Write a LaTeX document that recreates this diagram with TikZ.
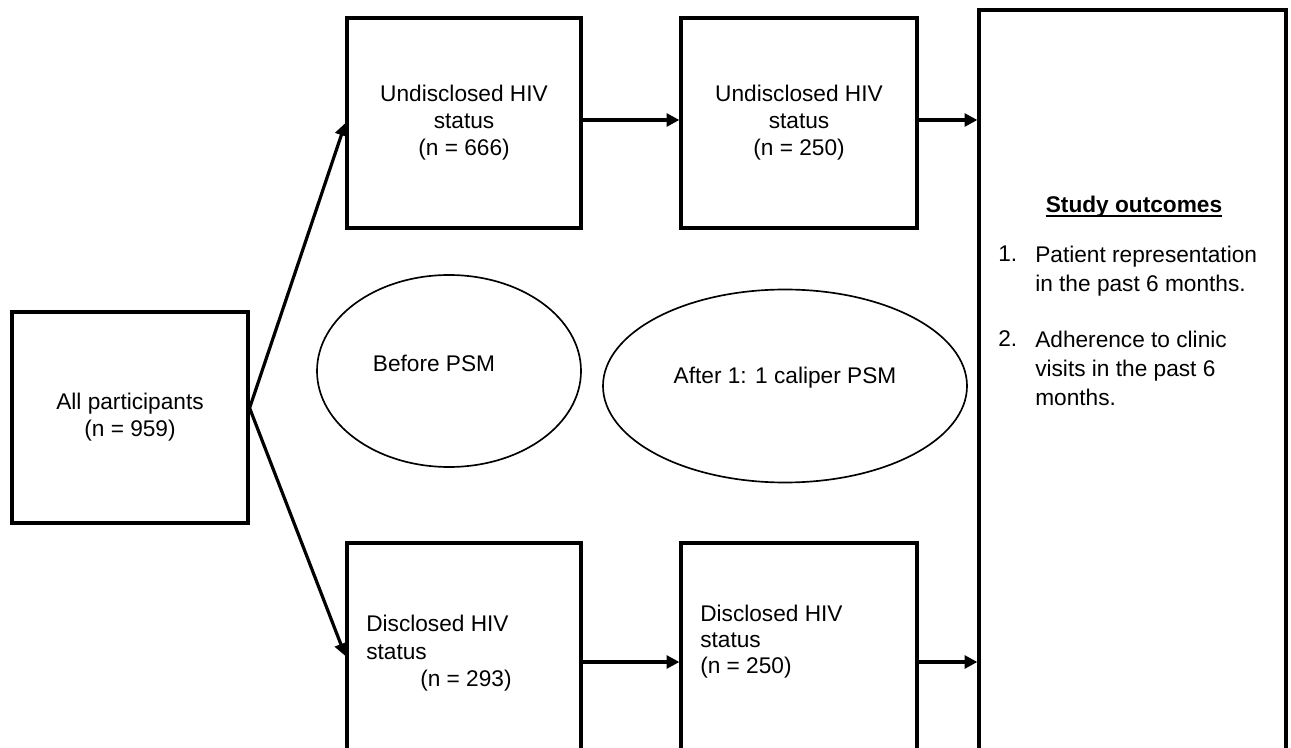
\documentclass[tikz,border=0pt]{standalone}
\usepackage{fontspec}
\setmainfont{Liberation Sans}
\usetikzlibrary{arrows.meta,shapes.geometric}
\begin{document}
\begin{tikzpicture}[x=0.75pt,y=-0.75pt,
  box/.style={draw, line width=2.4pt, rectangle, inner sep=0pt, align=center,
    font=\fontsize{17pt}{20.25pt}\selectfont},
  oval/.style={draw, line width=1.25pt, ellipse, inner sep=0pt},
  txt/.style={inner sep=0pt, font=\fontsize{17pt}{20.25pt}\selectfont},
  rtxt/.style={inner sep=0pt, align=left, font=\fontsize{17pt}{21.75pt}\selectfont},
  arr/.style={line width=2.4pt, -{Triangle[length=9.5pt,width=9.5pt]}}]
\useasboundingbox (0,0) rectangle (1291,748);
\clip (0,0) rectangle (1291,748);

% boxes
\node[box, minimum width=177pt, minimum height=158.25pt] (A) at (130,417.5)
  {All participants\\(n = 959)};
\node[box, minimum width=175.5pt, minimum height=157.5pt] (U1) at (464,123)
  {Undisclosed HIV\\status\\(n = 666)};
\node[box, minimum width=177pt, minimum height=157.5pt] (U2) at (799,123)
  {Undisclosed HIV\\status\\(n = 250)};
\node[box, minimum width=175.5pt, minimum height=178.5pt] (D1) at (464,662) {};
\node[box, minimum width=177pt, minimum height=178.5pt] (D2) at (799,662) {};
\node[box, minimum width=230.25pt, minimum height=585pt] (R) at (1132.5,400) {};

% texts of the lower boxes
\node[rtxt, anchor=north west, font=\fontsize{17pt}{20.5pt}\selectfont] (D1t) at (366,615)
  {Disclosed HIV\\status\\\hspace*{40.5pt}(n = 293)};
\node[rtxt, anchor=north west, font=\fontsize{17pt}{19.5pt}\selectfont] (D2t) at (700,605)
  {Disclosed HIV\\status\\(n = 250)};

% ellipses
\node[oval, minimum width=198pt, minimum height=144pt] (E1) at (449,371) {};
\node[txt] (E1t) at (434,363) {Before PSM};
\node[oval, minimum width=273pt, minimum height=144.75pt] (E2) at (785,386) {};
\node[txt] (E2t) at (785,378) {After 1: 1 caliper PSM};

% study outcomes
\node[txt, anchor=base, font=\bfseries\fontsize{17pt}{20pt}\selectfont] (T) at (1134,213) {Study outcomes};
\draw[line width=1.3pt] ([yshift=-2.4pt]T.base west) -- ([yshift=-2.4pt]T.base east);
\node[txt, anchor=base west] (n1) at (998,262) {1.};
\node[rtxt, anchor=north west] (t1) at (1035,246) {Patient representation\\in the past 6 months.};
\node[txt, anchor=base west] (n2) at (998,347) {2.};
\node[rtxt, anchor=north west] (t2) at (1035,331) {Adherence to clinic\\visits in the past 6\\months.};

% connectors
\coordinate (apex) at ([yshift=7.1pt]A.east);
\draw[arr] (apex) -- (U1.west);
\draw[arr] (apex) -- ([yshift=4.5pt]D1.west);
\coordinate (u1r) at ([yshift=2.25pt]U1.east);
\coordinate (u2r) at ([yshift=2.25pt]U2.east);
\draw[arr] (u1r) -- (u1r -| U2.west);
\draw[arr] (u2r) -- (u2r -| R.west);
\draw[arr] (D1.east) -- (D1.east -| D2.west);
\draw[arr] (D2.east) -- (D2.east -| R.west);
\end{tikzpicture}
\end{document}
